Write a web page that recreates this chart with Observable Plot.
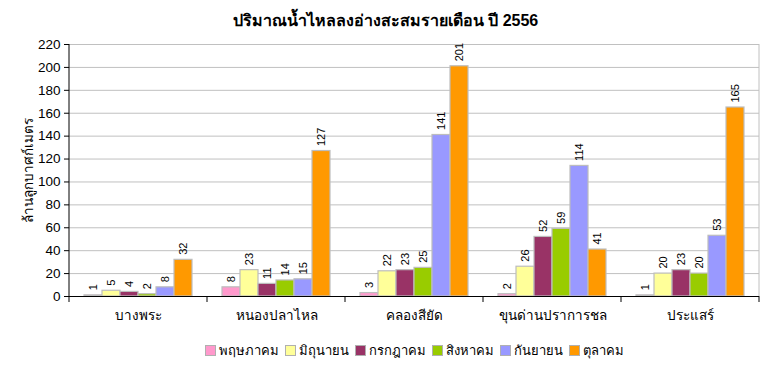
<!DOCTYPE html>
<html><head><meta charset="utf-8">
<script src="https://cdn.jsdelivr.net/npm/d3@7"></script>
<script src="https://cdn.jsdelivr.net/npm/@observablehq/plot@0.6"></script>
<style>
body{margin:0;background:#fff;font-family:Arial,"Liberation Sans",sans-serif;}
#title{height:34px;text-align:center;font-weight:bold;font-size:16px;line-height:42px;color:#000;}
#chart{height:300px;}
#legend{display:flex;justify-content:center;align-items:center;padding-left:68px;padding-right:11px;height:32px;font-size:13px;color:#000;}
#legend .item{display:flex;align-items:center;margin:0 3px;}
#legend .sw{width:9px;height:9px;border:1px solid #b0b0b0;margin-right:3px;}
</style></head><body>
<div id="title"></div>
<div id="chart"></div>
<div id="legend"></div>
<script>
const titleText = "ปริมาณน้ำไหลลงอ่างสะสมรายเดือน ปี 2556";
const yLabel = "ล้านลูกบาศก์เมตร";
const locations = ["บางพระ", "หนองปลาไหล", "คลองสียัด", "ขุนด่านปราการชล", "ประแสร์"];
const months = ["พฤษภาคม", "มิถุนายน", "กรกฎาคม", "สิงหาคม", "กันยายน", "ตุลาคม"];
const monthColors = ["#FF99CC", "#FFFF99", "#993366", "#99CC00", "#9999FF", "#FF9900"];
const may = [1, 8, 3, 2, 1];
const jun = [5, 23, 22, 26, 20];
const jul = [4, 11, 23, 52, 23];
const aug = [2, 14, 25, 59, 20];
const sep = [8, 15, 141, 114, 53];
const oct = [32, 127, 201, 41, 165];
const yTicks = [0, 20, 40, 60, 80, 100, 120, 140, 160, 180, 200, 220];

const series = [may, jun, jul, aug, sep, oct];
const data = [];
locations.forEach((loc, i) => months.forEach((m, j) => data.push({loc, month: m, value: series[j][i]})));

document.getElementById("title").textContent = titleText;

const chart = Plot.plot({
  width: 771,
  height: 300,
  marginLeft: 68,
  marginRight: 11,
  marginTop: 10,
  marginBottom: 38,
  style: {fontSize: "13px", fontFamily: "Arial, 'Liberation Sans', sans-serif", color: "#000", background: "#fff"},
  fx: {domain: locations, paddingInner: 0, paddingOuter: 0, label: null},
  x: {domain: months, paddingInner: 0, paddingOuter: 0.8, axis: null},
  y: {domain: [0, 220], label: null},
  color: {domain: months, range: monthColors},
  marks: [
    Plot.gridY(yTicks, {stroke: "#c0c0c0", strokeOpacity: 1}),
    Plot.barY(data, {fx: "loc", x: "month", y: "value", fill: "month", stroke: "#bdbdbd", strokeWidth: 1.2}),
    Plot.text(data, {fx: "loc", x: "month", y: "value", text: d => String(d.value), rotate: -90, textAnchor: "start", lineAnchor: "middle", dy: -5, fontSize: 11, fill: "#000"}),
    Plot.ruleY([0], {stroke: "#000"}),
    Plot.axisY({ticks: yTicks, tickSize: 5, tickPadding: 4, label: yLabel, labelAnchor: "center", labelArrow: "none", labelOffset: 46, fontSize: 13.5}),
    Plot.axisFx({anchor: "bottom", tickSize: 0, tickPadding: 14, fontSize: 13.5, label: null})
  ]
});
document.getElementById("chart").appendChild(chart);

// axis line, right border and category divider ticks from the library's scales
const svg = d3.select(chart);
const fx = chart.scale("fx");
const y = chart.scale("y");
const y0 = y.apply(0), yTop = y.apply(220);
const left = fx.apply(locations[0]);
const bw = fx.bandwidth;
const right = fx.apply(locations[locations.length - 1]) + bw;
const g = svg.append("g");
g.append("line").attr("x1", right).attr("x2", right).attr("y1", yTop).attr("y2", y0).attr("stroke", "#c0c0c0");
g.append("line").attr("x1", left).attr("x2", left).attr("y1", yTop).attr("y2", y0).attr("stroke", "#000");
locations.forEach(loc => {
  const x0 = fx.apply(loc);
  g.append("line").attr("x1", x0).attr("x2", x0).attr("y1", y0).attr("y2", y0 + 6).attr("stroke", "#000");
});
g.append("line").attr("x1", right).attr("x2", right).attr("y1", y0).attr("y2", y0 + 6).attr("stroke", "#000");

const legend = document.getElementById("legend");
months.forEach((m, i) => {
  const it = document.createElement("span");
  it.className = "item";
  const sw = document.createElement("span");
  sw.className = "sw";
  sw.style.background = monthColors[i];
  it.appendChild(sw);
  it.appendChild(document.createTextNode(m));
  legend.appendChild(it);
});
</script>
</body></html>
